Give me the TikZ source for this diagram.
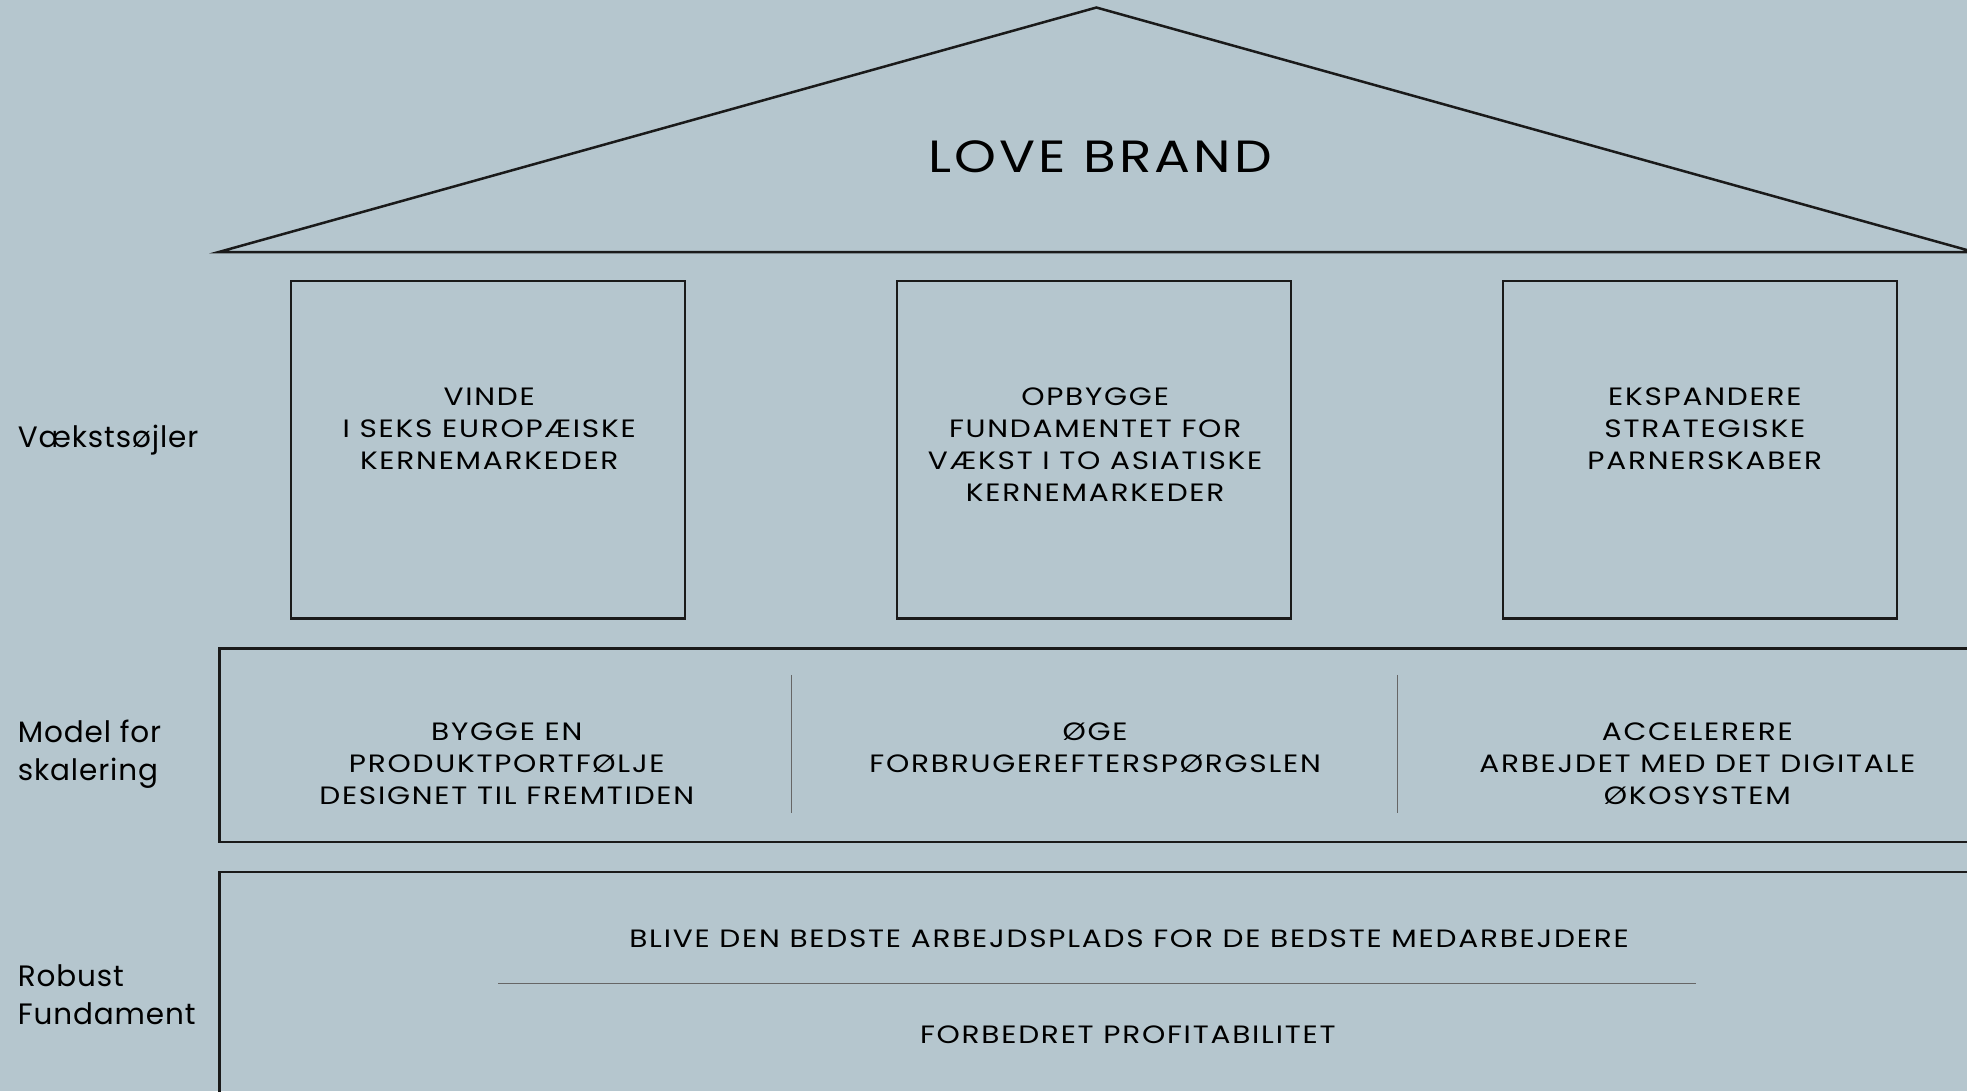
\documentclass[tikz,border=0pt]{standalone}
\usepackage{fontspec}
\setmainfont{Poppins}
\newfontfamily\capsfont[FakeStretch=1.18,LetterSpace=7]{Poppins}
\newfontfamily\labelfont[LetterSpace=3]{Poppins}
\definecolor{housebg}{HTML}{B5C6CE}
\definecolor{houseline}{HTML}{1A1A1A}
\tikzset{
    frame/.style={draw=houseline,line width=2pt},
    divider/.style={draw=gray!80!black,line width=1pt},
    caps/.style={align=center,inner sep=0pt,font=\capsfont\fontsize{20}{25.5}\selectfont},
    rowlabel/.style={align=left,anchor=west,inner sep=0pt,font=\labelfont\fontsize{23.5}{30}\selectfont},
}
\begin{document}
\begin{tikzpicture}[x=1pt,y=-1pt]
    \clip(0,0)rectangle(1568,870);
    \fill[housebg](0,0)rectangle(1568,870);
    % roof
    \draw[frame,line join=miter](174,201)--(874,6)--(1574,201)--cycle;
    \node(brand)at(877,125)[inner sep=0pt,font=\capsfont\fontsize{36}{40}\selectfont]{LOVE BRAND};
    % pillars
    \draw[frame](232,224)rectangle(546,493);
    \draw[frame](715,224)rectangle(1029,493);
    \draw[frame](1198,224)rectangle(1512,493);
    \node(vinde)at(390,341.5)[caps]{VINDE\\I SEKS EUROPÆISKE\\KERNEMARKEDER};
    \node(opbygge)at(873,354.5)[caps]{OPBYGGE\\FUNDAMENTET FOR\\VÆKST I TO ASIATISKE\\KERNEMARKEDER};
    \node(ekspandere)at(1359,341.5)[caps]{EKSPANDERE\\STRATEGISKE\\PARNERSKABER};
    % model for skalering
    \draw[frame](175,517)rectangle(1580,671);
    \draw[divider](631,538)--(631,648);
    \draw[divider](1114,538)--(1114,648);
    \node(bygge)at(404,608.5)[caps]{BYGGE EN\\PRODUKTPORTFØLJE\\DESIGNET TIL FREMTIDEN};
    \node(oege)at(873,596)[caps]{ØGE\\FORBRUGEREFTERSPØRGSLEN};
    \node(accelerere)at(1353,608.5)[caps]{ACCELERERE\\ARBEJDET MED DET DIGITALE\\ØKOSYSTEM};
    % fundament
    \draw[frame](175,695)rectangle(1580,900);
    \node(arbejdsplads)at(900,748)[caps]{BLIVE DEN BEDSTE ARBEJDSPLADS FOR DE BEDSTE MEDARBEJDERE};
    \coordinate(sepl)at(397,784);
    \coordinate(sepr)at(1352,784);
    \draw[divider](sepl)--(sepr);
    \node(profit)at(899,825)[caps]{FORBEDRET PROFITABILITET};
    % row labels
    \node(vaekst)at(14,351)[rowlabel]{Vækstsøjler};
    \node(model)at(14,601)[rowlabel]{Model for\\skalering};
    \node(robust)at(14,793)[rowlabel]{Robust\\Fundament};
\end{tikzpicture}
\end{document}
